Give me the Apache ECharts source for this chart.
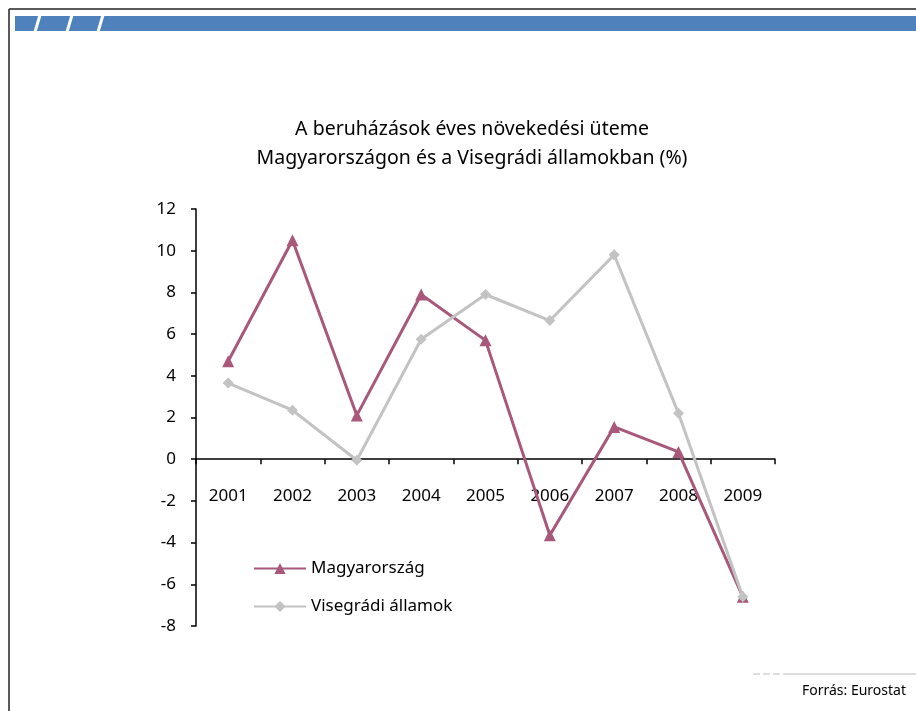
<!DOCTYPE html>
<html>
<head>
<meta charset="utf-8">
<script src="https://cdn.jsdelivr.net/npm/echarts@6/dist/echarts.min.js"></script>
<style>
  html, body { margin: 0; padding: 0; background: #fff; }
  #chart { width: 916px; height: 711px; }
</style>
</head>
<body>
<div id="chart"></div>
<script>
// adatok
var years = ['2001', '2002', '2003', '2004', '2005', '2006', '2007', '2008', '2009'];
var magyarorszag = [4.7, 10.5, 2.1, 7.9, 5.7, -3.65, 1.55, 0.35, -6.6];
var visegradi = [3.65, 2.35, -0.05, 5.75, 7.9, 6.65, 9.8, 2.2, -6.6];
var yTicks = { min: -8, max: 12, interval: 2 };

var font = '"Noto Sans", sans-serif';
var chart = echarts.init(document.getElementById('chart'));

var option = {
    backgroundColor: '#fff',
    animation: false,
    title: {
        text: 'A beruházások éves növekedési üteme\nMagyarországon és a Visegrádi államokban (%)',
        left: 467,
        top: 110,
        textAlign: 'center',
        textStyle: { fontFamily: font, fontSize: 19.5, fontWeight: 'normal', color: '#000', lineHeight: 29, align: 'center' }
    },
    legend: {
        orient: 'vertical',
        left: 253,
        top: 560,
        padding: 0,
        itemWidth: 52,
        itemHeight: 14,
        itemGap: 21,
        textStyle: { fontFamily: font, fontSize: 17, color: '#000' },
        data: ['Magyarország', 'Visegrádi államok']
    },
    grid: { left: 196, top: 209, width: 579, height: 417 },
    xAxis: {
        type: 'category',
        data: years,
        boundaryGap: true,
        axisLine: { onZero: true, lineStyle: { color: '#000', width: 1.5 } },
        axisTick: { show: true, length: 5, lineStyle: { color: '#000', width: 1.5 } },
        // a címkék a nullvonal alatt vannak, nem a rács alján
        axisLabel: { margin: -138, fontFamily: font, fontSize: 17, color: '#000' },
        splitLine: { show: false }
    },
    yAxis: {
        type: 'value',
        min: yTicks.min,
        max: yTicks.max,
        interval: yTicks.interval,
        axisLine: { show: true, onZero: false, lineStyle: { color: '#000', width: 1.5 } },
        axisTick: { show: true, length: 5, lineStyle: { color: '#000', width: 1.5 } },
        axisLabel: { margin: 20, fontFamily: font, fontSize: 17, color: '#000' },
        splitLine: { show: false }
    },
    series: [
        {
            name: 'Magyarország',
            type: 'line',
            data: magyarorszag,
            color: '#A8587A',
            lineStyle: { width: 3 },
            symbol: 'triangle',
            symbolSize: 12,
            z: 2
        },
        {
            name: 'Visegrádi államok',
            type: 'line',
            data: visegradi,
            color: '#C3C3C3',
            lineStyle: { width: 3 },
            symbol: 'diamond',
            symbolSize: 11,
            z: 3
        }
    ],
    graphic: [
        // keret
        { type: 'line', shape: { x1: 9, y1: 9, x2: 916, y2: 9 }, style: { stroke: '#222', lineWidth: 1.5 } },
        { type: 'line', shape: { x1: 9, y1: 9, x2: 9, y2: 711 }, style: { stroke: '#222', lineWidth: 1.5 } },
        // kék fejléc sáv
        { type: 'rect', shape: { x: 15, y: 16, width: 901, height: 15 }, style: { fill: '#4F81BD' } },
        { type: 'line', shape: { x1: 35, y1: 32, x2: 40, y2: 15 }, style: { stroke: '#fff', lineWidth: 3 } },
        { type: 'line', shape: { x1: 67, y1: 32, x2: 72, y2: 15 }, style: { stroke: '#fff', lineWidth: 3 } },
        { type: 'line', shape: { x1: 98, y1: 32, x2: 103, y2: 15 }, style: { stroke: '#fff', lineWidth: 3 } },
        // lábléc vonal
        { type: 'line', shape: { x1: 753, y1: 674, x2: 781, y2: 674 }, style: { stroke: '#DDDDDD', lineWidth: 2, lineDash: [7, 3] } },
        { type: 'line', shape: { x1: 783, y1: 674, x2: 916, y2: 674 }, style: { stroke: '#DDDDDD', lineWidth: 2 } },
        {
            type: 'text', x: 906, y: 691,
            style: { text: 'Forrás: Eurostat', fontFamily: font, fontSize: 14, fill: '#000', textAlign: 'right', textVerticalAlign: 'middle' }
        }
    ]
};

chart.setOption(option);
</script>
</body>
</html>
